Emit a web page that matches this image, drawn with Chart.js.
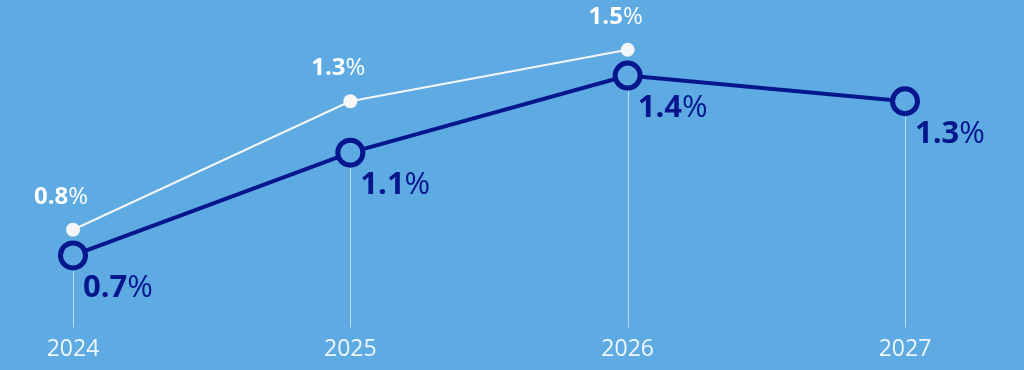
<!DOCTYPE html>
<html>
<head>
<meta charset="utf-8">
<script src="https://cdn.jsdelivr.net/npm/chart.js@4.4.1/dist/chart.umd.min.js"></script>
<style>
  html, body { margin: 0; padding: 0; background: #5eaae3; }
  #wrap { width: 1024px; height: 370px; }
</style>
</head>
<body>
<div id="wrap"><canvas id="chart"></canvas></div>
<script>
const years = ['2024', '2025', '2026', '2027'];
const lightSeries = [0.8, 1.3, 1.5, null];
const darkSeries = [0.7, 1.1, 1.4, 1.3];

const bg = '#5eaae3';
const darkBlue = '#06168c';
const font = '"Open Sans", sans-serif';

// drop lines from the dark points down to the baseline
const dropLines = {
    id: 'dropLines',
    beforeDatasetsDraw(chart) {
        const ctx = chart.ctx;
        const meta = chart.getDatasetMeta(1);
        const bottom = chart.chartArea.bottom;
        ctx.save();
        ctx.strokeStyle = 'rgba(255,255,255,0.6)';
        ctx.lineWidth = 1;
        meta.data.forEach((pt) => {
            ctx.beginPath();
            ctx.moveTo(Math.round(pt.x) + 0.5, pt.y + 15);
            ctx.lineTo(Math.round(pt.x) + 0.5, bottom);
            ctx.stroke();
        });
        ctx.restore();
    }
};

// value labels: bold number + regular %
function drawLabel(ctx, num, x, y, size, color, align) {
    ctx.font = 'bold ' + size + 'px ' + font;
    const w1 = ctx.measureText(num).width;
    ctx.font = size + 'px ' + font;
    const w2 = ctx.measureText('%').width;
    let left = x;
    if (align === 'center') left = x - (w1 + w2) / 2;
    ctx.fillStyle = color;
    ctx.textBaseline = 'middle';
    ctx.textAlign = 'left';
    ctx.font = 'bold ' + size + 'px ' + font;
    ctx.fillText(num, left, y);
    ctx.font = size + 'px ' + font;
    ctx.fillText('%', left + w1, y);
}

const valueLabels = {
    id: 'valueLabels',
    afterDatasetsDraw(chart) {
        const ctx = chart.ctx;
        ctx.save();
        chart.getDatasetMeta(0).data.forEach((pt, i) => {
            const v = lightSeries[i];
            if (v == null) return;
            drawLabel(ctx, v.toFixed(1), pt.x - 12, pt.y - 33, 24, '#ffffff', 'center');
        });
        chart.getDatasetMeta(1).data.forEach((pt, i) => {
            const v = darkSeries[i];
            drawLabel(ctx, v.toFixed(1), pt.x + 10, pt.y + 33, 31, darkBlue, 'left');
        });
        ctx.restore();
    }
};

new Chart(document.getElementById('chart'), {
    type: 'line',
    data: {
        labels: years,
        datasets: [{
            data: lightSeries,
            borderColor: '#f4f6f8',
            borderWidth: 2,
            pointRadius: 7,
            pointBorderWidth: 0,
            pointBackgroundColor: '#f4f6f8',
            tension: 0
        }, {
            data: darkSeries,
            borderColor: darkBlue,
            borderWidth: 4,
            pointRadius: 12.5,
            pointBorderWidth: 5,
            pointBorderColor: darkBlue,
            pointBackgroundColor: bg,
            tension: 0
        }]
    },
    options: {
        responsive: true,
        maintainAspectRatio: false,
        animation: false,
        layout: { padding: { left: 73, right: 119, top: 19, bottom: 7 } },
        plugins: { legend: { display: false }, tooltip: { enabled: false } },
        scales: {
            x: {
                offset: false,
                grid: { display: false },
                border: { display: false },
                ticks: {
                    color: 'rgba(255,255,255,0.9)',
                    font: { family: font, size: 23 },
                    padding: 0
                }
            },
            y: {
                display: false,
                min: 0.42,
                max: 1.62
            }
        }
    },
    plugins: [dropLines, valueLabels]
});
</script>
</body>
</html>
